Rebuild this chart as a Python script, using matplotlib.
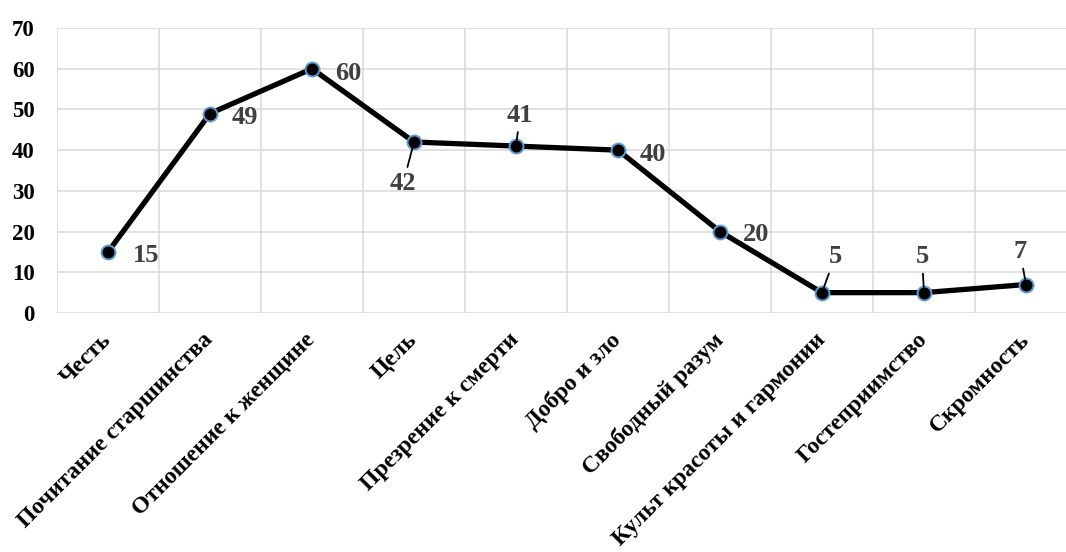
import numpy as np
import matplotlib
matplotlib.use("Agg")
import matplotlib.pyplot as plt

# Values per category
categories = [
    "Честь",
    "Почитание старшинства",
    "Отношение к женщине",
    "Цель",
    "Презрение к смерти",
    "Добро и зло",
    "Свободный разум",
    "Культ красоты и гармонии",
    "Гостеприимство",
    "Скромность",
]
values = [15, 49, 60, 42, 41, 40, 20, 5, 5, 7]
y_ticks = [0, 10, 20, 30, 40, 50, 60, 70]

# Data label placement: (dx, dy) in pixels, alignment, leader line on/off
label_offsets = [(25, -4), (22, -4), (23, -5), (-11, -42), (4, 31),
                 (22, -4), (23, -3), (13, 36), (-2, 36), (-6, 33)]
label_align = ["left", "left", "left", "center", "center",
               "left", "left", "center", "center", "center"]
label_leader = [False, False, False, True, True,
                False, False, True, True, True]

plt.rcParams["font.family"] = ["Liberation Serif", "DejaVu Serif"]
plt.rcParams["font.weight"] = "bold"

fig = plt.figure(figsize=(10.66, 5.52), dpi=100)
ax = fig.add_axes([57 / 1066, 239 / 552, 1020 / 1066, 285 / 552])

x = np.arange(len(categories))
ax.plot(x, values, color="black", lw=3.8, zorder=3,
        marker="o", markersize=10, markerfacecolor="black",
        markeredgecolor="#5b9bd5", markeredgewidth=1.4)

# Data labels
for xi, v, (dx, dy), ha, lead in zip(x, values, label_offsets, label_align, label_leader):
    arrow = None
    if lead:
        arrow = dict(arrowstyle="-", color="black", lw=1.3,
                     shrinkA=2, shrinkB=4)
    ax.annotate(str(v), xy=(xi, v), xytext=(dx, dy), textcoords="offset pixels",
                ha=ha, va="center", fontsize=19, fontweight="bold",
                color="#404040", arrowprops=arrow, zorder=4)

ax.set_xlim(-0.5, len(categories) - 0.5)
ax.set_ylim(0, 70)
ax.set_yticks(y_ticks)
ax.set_xticks(x)
ax.set_xticks(np.arange(-0.5, len(categories), 1.0), minor=True)
ax.set_xticklabels(categories, rotation=45, ha="right", va="center",
                   rotation_mode="anchor", fontsize=17, fontweight="bold")
ax.tick_params(axis="x", which="both", length=0, pad=17)
ax.tick_params(axis="y", length=0, pad=16, labelsize=16.5)

ax.grid(axis="y", which="major", color="#d9d9d9", lw=1.1)
ax.grid(axis="x", which="minor", color="#d9d9d9", lw=1.1)
ax.grid(axis="x", which="major", visible=False)
ax.set_axisbelow(True)
for s in ax.spines.values():
    s.set_visible(False)

fig.savefig("out.png", dpi=100)
